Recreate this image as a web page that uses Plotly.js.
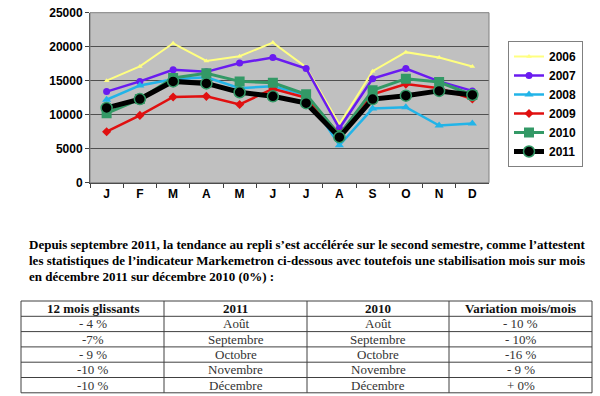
<!DOCTYPE html>
<html><head><meta charset="utf-8">
<script src="https://cdn.plot.ly/plotly-3.0.1.min.js"></script>
<style>html,body{margin:0;padding:0;background:#fff;}#chart{width:600px;height:396px;}</style>
</head><body><div id="chart"></div>
<script>
const months = ["J","F","M","A","M ","J ","J  ","A ","S","O","N","D"];
const monthLabels = ["J","F","M","A","M","J","J","A","S","O","N","D"];
const s2006 = [15000,17100,20500,17900,18600,20600,17000,8600,16400,19200,18400,17100];
const s2007 = [13400,14900,16600,16300,17600,18400,16800,8000,15300,16800,14900,13500];
const s2008 = [12200,14300,15200,15500,13900,14200,12900,5500,10900,11100,8400,8700];
const s2009 = [7500,9900,12600,12700,11500,13800,12500,7200,13000,14500,13900,12300];
const s2010 = [10200,12300,15400,16100,14900,14700,13000,7000,13600,15300,14800,12900];
const s2011 = [11000,12300,14900,14600,13300,12700,11700,6700,12300,12800,13500,12900];
const yTicks = [0,5000,10000,15000,20000,25000];

const paragraph = [
  "Depuis septembre 2011, la tendance au repli s\u2019est accélérée sur le second semestre, comme l\u2019attestent",
  "les statistiques de l\u2019indicateur Markemetron ci-dessous avec toutefois une stabilisation mois sur mois",
  "en décembre 2011 sur décembre 2010 (0%) :"
];
const tableHeader = ["12 mois glissants","2011","2010","Variation mois/mois"];
const colGlissants = ["- 4 %","-7%","- 9 %","-10 %","-10 %"];
const col2011 = ["Août","Septembre","Octobre","Novembre","Décembre"];
const col2010 = ["Août","Septembre","Octobre","Novembre","Décembre"];
const colVariation = ["- 10 %","- 10%","-16 %","- 9 %","+ 0%"];

const W = 600, H = 396;
const px = x => x / W;
const py = y => 1 - y / H;

const mk = (name, y, color, width, marker) => ({
  type:"scatter", mode:"lines+markers", name, x:months, y,
  line:{color, width}, marker
});
const traces = [
  mk("2006", s2006, "#ffff80", 2, {symbol:"triangle-up", size:5, color:"#ffff80"}),
  mk("2007", s2007, "#6a1bf0", 2.5, {symbol:"circle", size:7, color:"#6a1bf0"}),
  mk("2008", s2008, "#22b4e8", 2.5, {symbol:"triangle-up", size:8, color:"#22b4e8"}),
  mk("2009", s2009, "#e01010", 2.5, {symbol:"diamond", size:7, color:"#e01010"}),
  mk("2010", s2010, "#339966", 3, {symbol:"square", size:10, color:"#339966"}),
  mk("2011", s2011, "#000000", 5, {symbol:"circle", size:11, color:"#000000", line:{color:"#339966", width:1.5}})
];

// paragraph
const annotations = paragraph.map((t,i)=>({
  xref:"paper", yref:"paper", x:px(27), y:py(244+i*16), xanchor:"left", yanchor:"middle",
  text:"<b>"+t+"</b>", showarrow:false,
  font:{family:"Liberation Serif", size:13, color:"#000"}
}));

// table geometry
const colX = [21, 164, 307, 449, 592];
const rowTop = 301, rowH = 15.3, nRows = 6;
const shapes = [{type:"rect", xref:"paper", yref:"paper", x0:px(90), x1:px(489), y0:py(182.7), y1:py(12.7),
  line:{color:"#808080", width:1}}];
for (let r = 0; r <= nRows; r++) {
  const y = rowTop + r*rowH;
  shapes.push({type:"line", xref:"paper", yref:"paper", x0:px(colX[0]), x1:px(colX[4]), y0:py(y), y1:py(y),
    line:{color:"#404040", width:1}});
}
colX.forEach(x => shapes.push({type:"line", xref:"paper", yref:"paper", x0:px(x), x1:px(x),
  y0:py(rowTop), y1:py(rowTop+nRows*rowH), line:{color:"#404040", width:1}}));

const cols = [colGlissants, col2011, col2010, colVariation];
for (let c = 0; c < 4; c++) {
  const cx = (colX[c]+colX[c+1])/2;
  annotations.push({xref:"paper", yref:"paper", x:px(cx), y:py(rowTop+rowH/2), xanchor:"center", yanchor:"middle",
    text:"<b>"+tableHeader[c]+"</b>", showarrow:false, font:{family:"Liberation Serif", size:13, color:"#111"}});
  cols[c].forEach((v,r) => annotations.push({xref:"paper", yref:"paper", x:px(cx), y:py(rowTop+rowH*(r+1.5)),
    xanchor:"center", yanchor:"middle", text:v, showarrow:false,
    font:{family:"Liberation Serif", size:13, color:"#333"}}));
}

const layout = {
  width:W, height:H, margin:{l:0,r:0,t:0,b:0},
  paper_bgcolor:"#ffffff", plot_bgcolor:"#c0c0c0",
  showlegend:true,
  legend:{x:px(508), y:py(41), xanchor:"left", yanchor:"top", bgcolor:"#ffffff",
    bordercolor:"#808080", borderwidth:1, tracegroupgap:0,
    font:{family:"Arial, Liberation Sans", size:12, color:"#000", weight:"bold"}},
  xaxis:{domain:[px(90), px(489)], type:"category", tickvals:months, ticktext:monthLabels,
    tickson:"boundaries", ticks:"outside", ticklen:4, tickcolor:"#404040",
    showline:true, linecolor:"#404040", showgrid:false, range:[-0.5,11.5],
    tickfont:{family:"Arial, Liberation Sans", size:12, color:"#000", weight:"bold"}},
  yaxis:{domain:[py(182.7), py(12.7)], range:[0,25000], tickvals:yTicks, tickformat:"d",
    ticks:"outside", ticklen:4, tickcolor:"#404040", showline:true, linecolor:"#404040",
    gridcolor:"#505050", gridwidth:1, zeroline:false,
    tickfont:{family:"Arial, Liberation Sans", size:12, color:"#000", weight:"bold"}},
  shapes, annotations
};
Plotly.newPlot("chart", traces, layout, {displayModeBar:false, staticPlot:true});
</script></body></html>
